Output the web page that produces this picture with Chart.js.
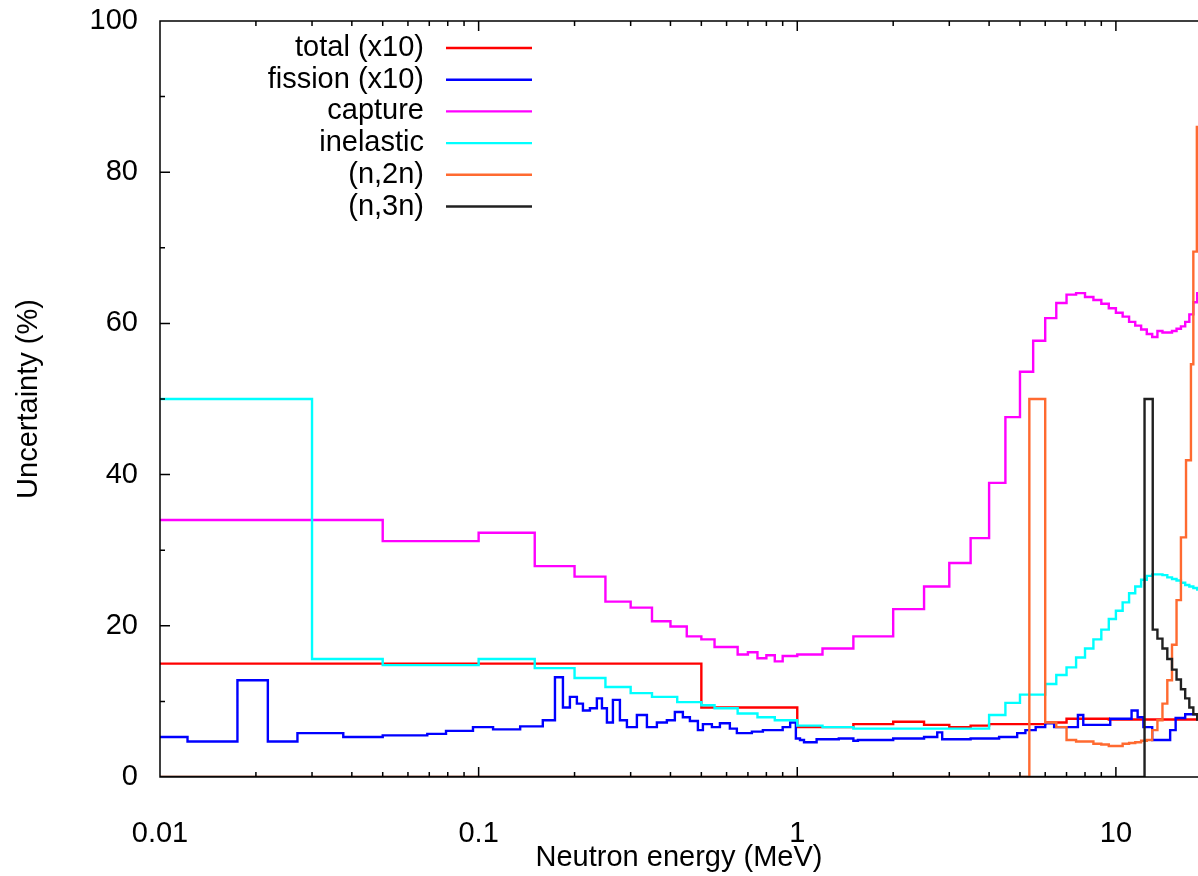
<!DOCTYPE html>
<html>
<head>
<meta charset="utf-8">
<script src="https://cdn.jsdelivr.net/npm/chart.js@4.4.0/dist/chart.umd.min.js"></script>
<style>
  html, body { margin: 0; padding: 0; background: #fff; }
  canvas { display: block; }
</style>
</head>
<body>
<canvas id="Chart_1" width="1198" height="876"></canvas>
<script>
// bin edges (MeV) and values (%); each value holds up to the next edge
var totE = [0.01, 0.5, 1.0, 1.5, 2.0, 2.5, 3.0, 3.5, 4.0, 6.0, 7.0, 9.5, 18.5];
var totV = [15.0, 9.2, 6.6, 7.0, 7.3, 6.9, 6.6, 6.8, 7.0, 7.2, 7.7, 7.6];

var fisE = [0.01, 0.0122, 0.0175, 0.0218, 0.027, 0.0376, 0.05, 0.069, 0.079, 0.096,
            0.111, 0.135, 0.159, 0.1736, 0.1839, 0.1934, 0.2034, 0.2125, 0.2235, 0.235,
            0.2438, 0.2527, 0.2639, 0.2776, 0.292, 0.3138, 0.3374, 0.3626, 0.3897, 0.4129,
            0.4375, 0.4603, 0.4877, 0.5057, 0.5396, 0.5718, 0.6144, 0.6463, 0.7204, 0.78,
            0.90, 0.95, 0.99, 1.02, 1.05, 1.15, 1.35, 1.5, 1.55, 2.0,
            2.5, 2.75, 2.85, 3.5, 4.3, 4.9, 5.2, 5.6, 6.0, 6.4,
            7.6, 7.9, 9.6, 11.2, 11.7, 12.2, 13.0, 14.8, 15.4, 16.5, 18.5];
var fisV = [5.3, 4.7, 12.8, 4.7, 5.8, 5.3, 5.5, 5.7, 6.1, 6.6,
            6.3, 6.7, 7.5, 13.2, 9.2, 10.6, 9.7, 8.8, 9.1, 10.4,
            9.1, 7.2, 10.2, 7.5, 6.6, 8.2, 6.6, 7.2, 7.5, 8.6,
            7.9, 7.4, 6.2, 7.0, 6.6, 7.1, 6.4, 5.8, 6.0, 6.2,
            6.6, 7.2, 5.1, 4.9, 4.6, 5.0, 5.1, 4.8, 4.9, 5.1,
            5.3, 5.9, 5.0, 5.1, 5.3, 5.8, 6.2, 6.6, 7.1, 6.6,
            8.2, 6.9, 7.7, 8.8, 7.9, 6.6, 4.9, 6.2, 7.8, 8.3];

var capE = [0.01, 0.05, 0.1, 0.15, 0.2, 0.25, 0.3, 0.35, 0.4, 0.45,
            0.5, 0.55, 0.65, 0.7, 0.75, 0.8, 0.85, 0.9, 1.0, 1.2,
            1.5, 2.0, 2.5, 3.0, 3.5, 4.0, 4.5, 5.0, 5.5, 6.0,
            6.5, 7.0, 7.5, 8.0, 8.5, 9.0, 9.5, 10, 10.5, 11,
            11.5, 12, 12.5, 13, 13.5, 14, 14.5, 15, 15.5, 16,
            16.5, 17, 17.5, 18, 18.5];
var capV = [34.0, 31.2, 32.3, 27.9, 26.5, 23.2, 22.4, 20.6, 19.9, 18.6,
            18.2, 17.2, 16.2, 16.5, 15.7, 16.1, 15.3, 16.0, 16.2, 17.0,
            18.6, 22.2, 25.2, 28.3, 31.6, 38.9, 47.6, 53.6, 57.7, 60.7,
            62.7, 63.8, 64.0, 63.5, 63.1, 62.6, 62.0, 61.4, 60.9, 60.2,
            59.7, 59.2, 58.6, 58.2, 59.0, 58.8, 58.8, 59.0, 59.3, 59.6,
            60.2, 61.2, 62.8, 64.0];

var inE = [0.01, 0.03, 0.05, 0.1, 0.15, 0.2, 0.25, 0.3, 0.35, 0.42,
           0.5, 0.55, 0.65, 0.75, 0.85, 1.0, 1.2, 1.5, 4.0, 4.5,
           5.0, 6.0, 6.5, 7.0, 7.5, 8.0, 8.5, 9.0, 9.5, 10,
           10.5, 11, 11.5, 12, 12.5, 13, 13.5, 14, 14.5, 15,
           15.5, 16, 16.5, 17, 17.5, 18, 18.5];
var inV = [50.0, 15.6, 14.8, 15.6, 14.4, 13.1, 11.9, 11.1, 10.6, 9.9,
           9.5, 9.1, 8.4, 7.9, 7.5, 6.8, 6.6, 6.4, 8.2, 9.8,
           10.9, 12.3, 13.5, 14.5, 15.8, 17.0, 18.2, 19.5, 20.9, 22.0,
           23.1, 24.3, 25.2, 26.1, 26.6, 26.8, 26.8, 26.7, 26.4, 26.2,
           26.0, 25.7, 25.4, 25.2, 25.0, 24.8];

var n2nE = [0.01, 5.35, 6.0, 6.5, 7.0, 7.5, 8.0, 8.5, 9.0, 9.5,
            10, 10.5, 11, 11.5, 12, 12.5, 13, 13.5, 14, 14.5,
            15, 15.5, 16, 16.6, 17.2, 17.5, 17.95, 18.5];
var n2nV = [0, 50, 7.2, 6.6, 4.9, 4.7, 4.7, 4.4, 4.3, 4.1,
            4.1, 4.4, 4.5, 4.6, 4.8, 4.9, 6.2, 7.5, 9.7, 12.8,
            17.5, 23.4, 31.7, 41.9, 54.6, 69.5, 86];

var n3nE = [0.01, 12.3, 13.05, 13.5, 14, 14.5, 15, 15.5, 16, 16.5, 17, 17.5, 18, 18.5];
var n3nV = [0, 50, 19.5, 18.3, 17.0, 15.6, 14.2, 12.9, 11.6, 10.4, 9.2, 8.3, 7.6];

var labels = ['total (x10)', 'fission (x10)', 'capture', 'inelastic', '(n,2n)', '(n,3n)'];
var colors = ['#ff0000', '#0000ff', '#ff00ff', '#00ffff', '#ff6a30', '#202020'];
var xTickLabels = {'-2': '0.01', '-1': '0.1', '0': '1', '1': '10'};

var FONT = 'Liberation Sans, Arial, Helvetica, sans-serif';

function steps(edges, vals) {
    return edges.map(function (e, i) {
        return {x: e, y: vals[Math.min(i, vals.length - 1)]};
    });
}

var series = [
    steps(totE, totV), steps(fisE, fisV), steps(capE, capV),
    steps(inE, inV), steps(n2nE, n2nV), steps(n3nE, n3nV)
];

var datasets = series.map(function (pts, i) {
    return {
        label: labels[i],
        data: pts,
        borderColor: colors[i],
        backgroundColor: colors[i],
        borderWidth: 2.4,
        pointRadius: 0,
        stepped: 'before',
        fill: false,
        order: series.length - i
    };
});

function noPad(s) {
    s.paddingTop = 0; s.paddingBottom = 0; s.paddingLeft = 0; s.paddingRight = 0;
}

// gnuplot-like box, inward ticks and key
var frame = {
    id: 'frame',
    afterDatasetsDraw: function (chart) {
        var ctx = chart.ctx, a = chart.chartArea;
        var x = chart.scales.x, y = chart.scales.y;
        ctx.save();
        ctx.strokeStyle = '#000';
        ctx.lineWidth = 1.5;
        ctx.beginPath();
        ctx.moveTo(a.right, a.top); ctx.lineTo(a.left, a.top);
        ctx.lineTo(a.left, a.bottom); ctx.lineTo(a.right, a.bottom);
        for (var v = 0; v <= 100; v += 10) {
            var py = y.getPixelForValue(v);
            var len = v % 20 === 0 ? 10 : 5;
            ctx.moveTo(a.left, py); ctx.lineTo(a.left + len, py);
        }
        for (var e = -2; e <= 1; e++) {
            for (var m = 1; m <= 9; m++) {
                var val = m * Math.pow(10, e);
                if (val > x.max) break;
                var px = x.getPixelForValue(val);
                var l = m === 1 ? 10 : 5;
                ctx.moveTo(px, a.bottom); ctx.lineTo(px, a.bottom - l);
                ctx.moveTo(px, a.top); ctx.lineTo(px, a.top + l);
            }
        }
        ctx.stroke();

        ctx.font = '29px ' + FONT;
        ctx.textAlign = 'right';
        ctx.textBaseline = 'middle';
        ctx.fillStyle = '#000';
        ctx.lineWidth = 2.4;
        chart.data.datasets.forEach(function (ds, i) {
            var ly = 48 + i * 31.7;
            ctx.fillText(ds.label, 424, ly);
            ctx.strokeStyle = ds.borderColor;
            ctx.beginPath();
            ctx.moveTo(446, ly); ctx.lineTo(532, ly);
            ctx.stroke();
        });
        ctx.restore();
    }
};

var ctx = document.getElementById('Chart_1');
var chart = new Chart(ctx, {
    type: 'line',
    data: { datasets: datasets },
    options: {
        responsive: false,
        animation: false,
        devicePixelRatio: 1,
        layout: { padding: { top: 21, right: 0, left: 0, bottom: 0 } },
        plugins: { legend: { display: false }, tooltip: { enabled: false } },
        scales: {
            x: {
                type: 'logarithmic',
                min: 0.01,
                max: 18.1,
                grid: { display: false, drawTicks: false },
                border: { display: false },
                ticks: {
                    autoSkip: false,
                    maxRotation: 0,
                    padding: 40,
                    color: '#000',
                    font: { family: FONT, size: 29 },
                    callback: function (value) {
                        var lg = Math.log10(value);
                        var r = Math.round(lg);
                        if (Math.abs(lg - r) < 1e-6 && xTickLabels[r] !== undefined) return xTickLabels[r];
                        return '';
                    }
                },
                title: {
                    display: true,
                    text: 'Neutron energy (MeV)',
                    color: '#000',
                    font: { family: FONT, size: 29 },
                    padding: { top: 0, bottom: 1 }
                },
                afterFit: function (s) { s.height = 99; noPad(s); }
            },
            y: {
                min: 0,
                max: 100,
                grid: { display: false, drawTicks: false },
                border: { display: false },
                ticks: {
                    stepSize: 20,
                    padding: 22,
                    color: '#000',
                    font: { family: FONT, size: 29 }
                },
                title: {
                    display: true,
                    text: 'Uncertainty (%)',
                    color: '#000',
                    font: { family: FONT, size: 29 },
                    padding: { top: 12, bottom: 0 }
                },
                afterFit: function (s) { s.width = 160; noPad(s); }
            }
        }
    },
    plugins: [frame]
});
</script>
</body>
</html>
